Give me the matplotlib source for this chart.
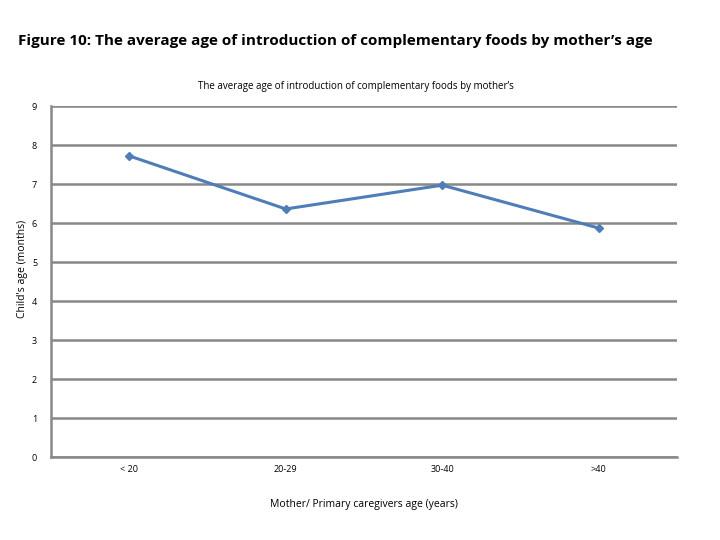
import matplotlib
matplotlib.use("Agg")
import matplotlib.pyplot as plt

categories = ["< 20", "20-29", "30-40", ">40"]
values = [7.72, 6.36, 6.97, 5.87]
yticks = [0, 1, 2, 3, 4, 5, 6, 7, 8, 9]

plt.rcParams['font.family'] = ['Open Sans', 'DejaVu Sans']

fig = plt.figure(figsize=(7.2, 5.4), dpi=100)
ax = fig.add_axes([0.0708, 0.1537, 0.8694, 0.65])

x = list(range(len(categories)))
ax.plot(x, values, color="#4F7DB8", linewidth=2.2, marker="D", markersize=4,
        markerfacecolor="#4F7DB8", markeredgecolor="#4F7DB8", zorder=3)

ax.set_xlim(-0.5, len(categories) - 0.5)
ax.set_ylim(0, 9)
ax.set_yticks(yticks)
ax.set_yticklabels([str(t) for t in yticks], fontsize=6.5)
ax.set_xticks(x)
ax.set_xticklabels(categories, fontsize=6.5)
ax.tick_params(axis='x', length=0, pad=6)
ax.tick_params(axis='y', length=0, pad=10)
ax.yaxis.grid(True, color="#888888", linewidth=1.8)
ax.set_axisbelow(True)
for s in ["top", "right"]:
    ax.spines[s].set_visible(False)
ax.spines["left"].set_color("#888888")
ax.spines["left"].set_linewidth(1.8)
ax.spines["bottom"].set_color("#888888")
ax.spines["bottom"].set_linewidth(1.8)

ax.set_xlabel("Mother/ Primary caregivers age (years)", fontsize=7.5, labelpad=18)
ax.set_ylabel("Child's age (months)", fontsize=7.5)
ax.yaxis.set_label_coords(-0.037, 0.535)

fig.text(0.025, 0.925, "Figure 10: The average age of introduction of complementary foods by mother\u2019s age",
         fontsize=11, fontweight="bold", ha="left", va="center")
fig.text(0.495, 0.84, "The average age of introduction of complementary foods by mother\u2019s",
         fontsize=7, ha="center", va="center")

fig.savefig("out.png", dpi=100)
